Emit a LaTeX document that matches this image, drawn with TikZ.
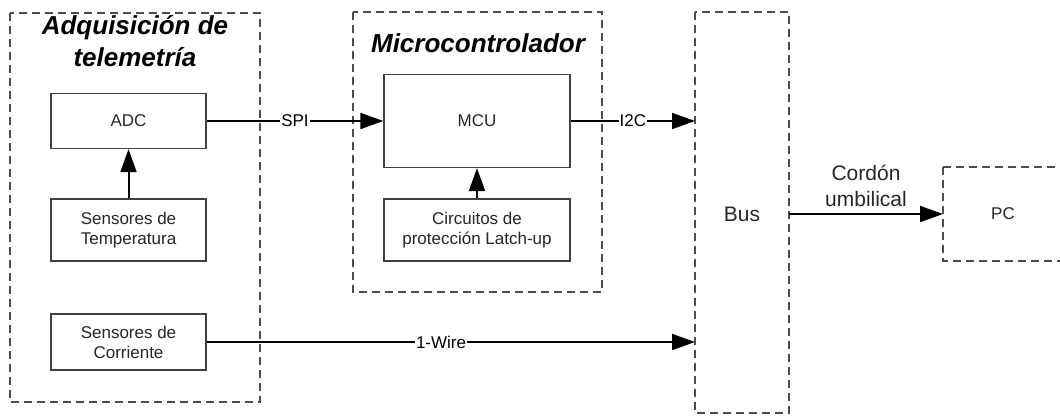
\documentclass[tikz,border=0pt]{standalone}
\usepackage{fontspec}
\setmainfont{Liberation Sans}
\usetikzlibrary{arrows.meta}
\begin{document}
\begin{tikzpicture}[x=1pt,y=-1pt,
  grp/.style={draw=black!70,line width=1.3pt,dash pattern=on 8pt off 5pt},
  blk/.style={draw=black!75,line width=1.3pt,fill=white},
  conn/.style={line width=2pt,-{Triangle[length=23pt,width=16pt]}},
  lbl/.style={font=\fontsize{17}{20}\selectfont,fill=white,inner sep=1pt},
  txt/.style={font=\fontsize{17}{20}\selectfont,align=center,text=black!85},
  ttl/.style={font=\fontsize{26}{32}\selectfont\bfseries\itshape,align=center}]
\useasboundingbox (0,0) rectangle (1060,415);
% groups
\draw[grp] (10,13) rectangle (260,402);
\draw[grp] (353,12) rectangle (602,292);
\draw[grp] (695,12) rectangle (789,413);
\draw[grp] (943,167) -- (1062,167) (943,167) -- (943,261) -- (1062,261);
\node[ttl] (t1) at (135,41) {Adquisición de\\telemetría};
\node[ttl] (t2) at (478,43) {Microcontrolador};
% blocks
\node[blk,minimum width=155pt,minimum height=55pt] (adc) at (128.5,121) {};
\node[txt] at (adc) {ADC};
\node[blk,minimum width=155pt,minimum height=62pt] (temp) at (128.5,230) {};
\node[txt] at (temp) {Sensores de\\Temperatura};
\node[blk,minimum width=155pt,minimum height=56pt] (corr) at (128.5,342) {};
\node[txt] at (corr) {Sensores de\\Corriente};
\node[blk,minimum width=186pt,minimum height=93pt] (mcu) at (477,121) {};
\node[txt] at (mcu) {MCU};
\node[blk,minimum width=186pt,minimum height=62pt] (prot) at (477,230) {};
\node[txt] at (prot) {Circuitos de\\protección Latch-up};
\coordinate (busL1) at (695,121);
\coordinate (busL2) at (695,342);
\coordinate (busR) at (789,214);
\coordinate (pcL) at (943,214);
\node[txt,font=\fontsize{21}{25}\selectfont] (bus) at (742,214) {Bus};
\node[txt] (pc) at (1003,214) {PC};
% connectors
\draw[conn] (temp.north) -- (adc.south);
\draw[conn] (prot.north) -- (mcu.south);
\draw[conn] (adc.east) -- (mcu.west) node[lbl,pos=0.5] {SPI};
\draw[conn] (mcu.east) -- (busL1) node[lbl,pos=0.5] {I2C};
\draw[conn] (corr.east) -- (busL2) node[lbl,pos=0.48] {1-Wire};
\draw[conn] (busR) -- (pcL) node[txt,pos=0.5,above=3pt,font=\fontsize{21}{26}\selectfont] {Cordón\\umbilical};
\end{tikzpicture}
\end{document}
